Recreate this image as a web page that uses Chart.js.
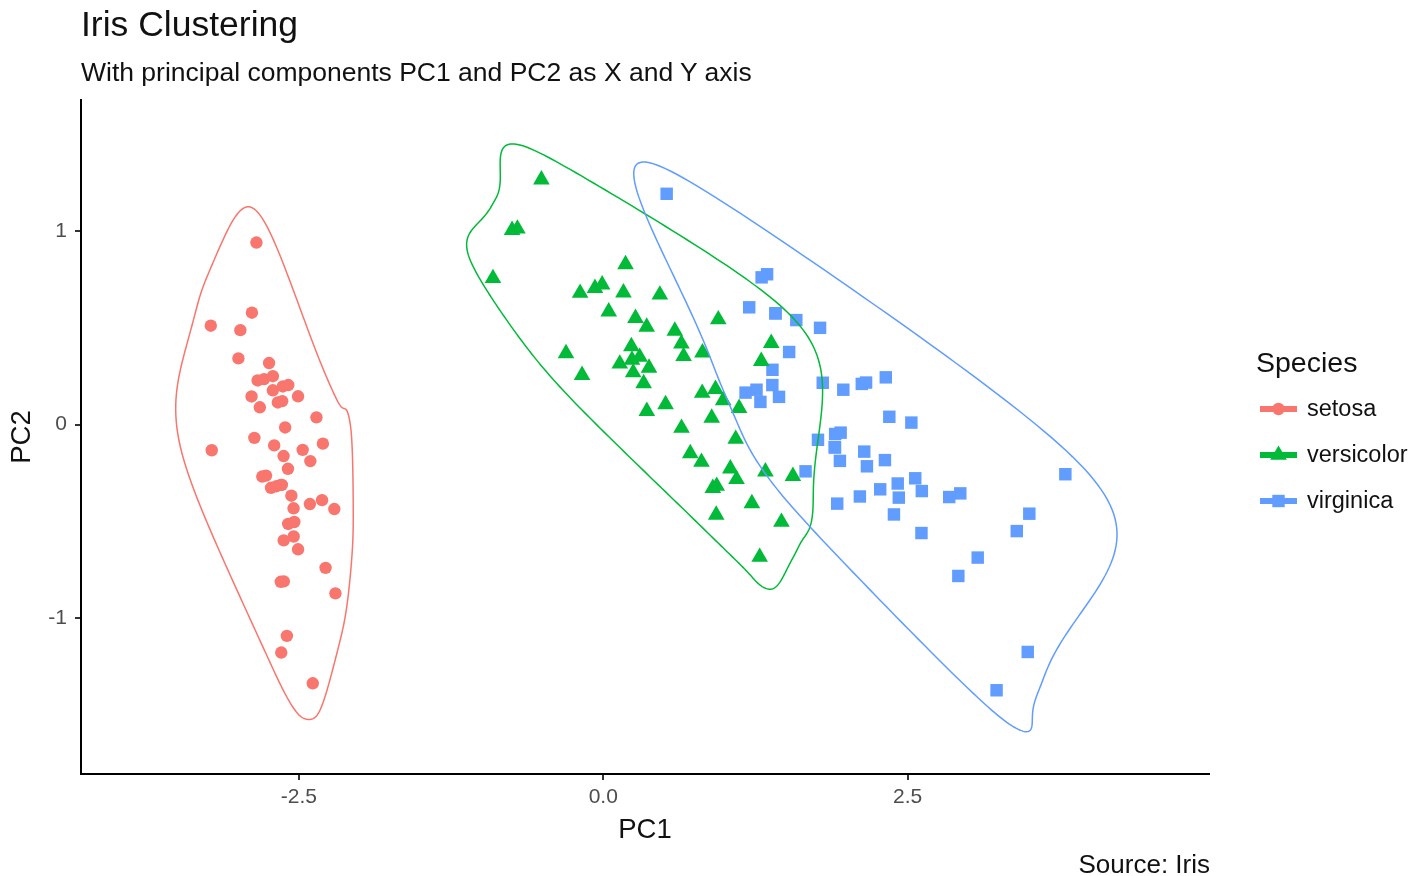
<!DOCTYPE html>
<html>
<head>
<meta charset="utf-8">
<script src="https://cdn.jsdelivr.net/npm/chart.js@4.4.1/dist/chart.umd.min.js"></script>
<style>
  html, body { margin: 0; padding: 0; background: #fff; }
  #wrap { position: relative; width: 1427px; height: 876px; overflow: hidden;
          font-family: "Liberation Sans", Arial, Helvetica, sans-serif; color: #111; }
  #chart { position: absolute; left: 0; top: 0; }
  .txt { position: absolute; white-space: nowrap; }
  .key { position: absolute; }
</style>
</head>
<body>
<div id="wrap">
  <canvas id="chart" width="1427" height="876"></canvas>
  <div class="txt" style="left:81px;top:7px;font-size:35.5px;line-height:35.5px;">Iris Clustering</div>
  <div class="txt" style="left:81px;top:59px;font-size:26.5px;line-height:26.5px;">With principal components PC1 and PC2 as X and Y axis</div>
  <div class="txt" style="right:217px;top:851px;font-size:26px;line-height:26px;">Source: Iris</div>
  <div class="txt" style="left:1256px;top:348px;font-size:28.5px;line-height:28.5px;">Species</div>
  <div id="legend"></div>
</div>
<script>
// PCA scores of the iris measurements (PC2 sign as plotted)
const species = ['setosa', 'versicolor', 'virginica'];
const colors = ['#F8766D', '#00BA38', '#619CFF'];
const shapes = ['circle', 'triangle', 'rect'];

const setosaPC1 = [-2.684,-2.714,-2.889,-2.745,-2.729,-2.281,-2.821,-2.626,-2.886,-2.673,
  -2.507,-2.613,-2.786,-3.224,-2.645,-2.386,-2.624,-2.648,-2.200,-2.588,
  -2.310,-2.544,-3.216,-2.303,-2.356,-2.507,-2.469,-2.562,-2.640,-2.632,
  -2.587,-2.410,-2.649,-2.599,-2.637,-2.866,-2.625,-2.801,-2.981,-2.590,
  -2.770,-2.849,-2.997,-2.406,-2.209,-2.714,-2.538,-2.839,-2.543,-2.703];
const setosaPC2 = [-0.319,0.177,0.145,0.318,-0.327,-0.741,0.089,-0.163,0.578,0.114,
  -0.645,-0.015,0.235,0.511,-1.179,-1.338,-0.811,-0.312,-0.873,-0.514,
  -0.391,-0.433,-0.133,-0.099,0.037,0.146,-0.131,-0.368,-0.312,0.197,
  0.204,-0.411,-0.813,-1.093,0.121,-0.069,-0.599,-0.269,0.488,-0.229,
  -0.264,0.941,0.342,-0.189,-0.437,0.250,-0.504,0.228,-0.579,-0.108];

const versicolorPC1 = [1.285,0.932,1.464,0.183,1.088,0.642,1.095,-0.749,1.044,-0.009,
  -0.508,0.512,0.265,0.985,-0.174,0.928,0.660,0.236,0.945,0.045,
  1.116,0.358,1.298,0.922,0.715,0.900,1.332,1.558,0.813,-0.306,
  -0.068,-0.190,0.136,1.380,0.588,0.807,1.221,0.815,0.246,0.166,
  0.465,0.891,0.231,-0.705,0.357,0.332,0.376,0.643,-0.906,0.299];
const versicolorPC2 = [-0.685,-0.318,-0.504,0.828,-0.075,0.418,-0.283,1.005,-0.228,0.723,
  1.266,0.104,0.550,0.125,0.255,-0.467,0.353,0.334,0.543,0.584,
  0.085,0.069,0.328,0.183,-0.149,-0.329,-0.244,-0.267,0.163,0.368,
  0.705,0.680,0.314,0.421,0.484,-0.194,-0.408,0.372,0.269,0.682,
  0.671,0.034,0.404,1.012,0.505,0.213,0.293,-0.018,0.756,0.349];

const virginicaPC1 = [2.531,1.415,2.617,1.972,2.350,3.397,0.521,2.933,2.321,2.917,
  1.662,1.803,2.166,1.346,1.586,1.904,1.950,3.487,3.796,1.301,
  2.428,1.199,3.500,1.389,2.275,2.614,1.259,1.291,2.124,2.388,
  2.842,3.231,2.159,1.444,1.781,3.076,2.144,1.905,1.169,2.108,
  2.314,1.922,1.415,2.563,2.419,1.944,1.527,1.764,1.901,1.390];
const virginicaPC2 = [0.010,0.575,-0.344,0.180,0.040,-0.551,1.193,-0.356,0.244,-0.783,
  -0.242,0.216,-0.216,0.777,0.540,-0.119,-0.042,-1.176,-0.257,0.761,
  -0.378,0.606,-0.461,0.204,-0.335,-0.561,0.180,0.117,0.210,-0.465,
  -0.375,-1.374,0.217,0.143,0.500,-0.688,-0.140,-0.049,0.165,-0.372,
  -0.184,-0.409,0.575,-0.278,-0.305,-0.188,0.375,-0.079,-0.117,0.283];

const xTicks = [-2.5, 0, 2.5];
const yTicks = [-1, 0, 1];
const xRange = [-4.290, 4.976];
const yRange = [-1.807, 1.678];

const pc1 = [setosaPC1, versicolorPC1, virginicaPC1];
const pc2 = [setosaPC2, versicolorPC2, virginicaPC2];

// sizes (px)
const radius = [6.2, 9.6, 8.8];
const FONT = "'Liberation Sans', Arial, Helvetica, sans-serif";
Chart.defaults.font.family = FONT;

// --- encircle: hull pushed out from the group centre, closed interpolating x-spline ---
const EXPAND = 0.05;
const SHAPE_Q = 0.5;

function hull(pts) {
  const p = pts.slice().sort((a, b) => a[0] - b[0] || a[1] - b[1]);
  const cross = (o, a, b) => (a[0]-o[0])*(b[1]-o[1]) - (a[1]-o[1])*(b[0]-o[0]);
  const lo = [], up = [];
  for (const q of p) { while (lo.length >= 2 && cross(lo[lo.length-2], lo[lo.length-1], q) <= 0) lo.pop(); lo.push(q); }
  for (let i = p.length - 1; i >= 0; i--) { const q = p[i];
    while (up.length >= 2 && cross(up[up.length-2], up[up.length-1], q) <= 0) up.pop(); up.push(q); }
  lo.pop(); up.pop();
  return lo.concat(up);
}
function gBlend(u, q) { return u*(q + u*(2*q + u*(8 - 12*q + u*(14*q - 11 + u*(4 - 5*q))))); }
function hBlend(u, q) { const u2 = u*u; return u*(q + u*(2*q + u2*(-2*q - u*q))); }
function xspline(ctrl, q) {
  const n = ctrl.length, out = [];
  for (let k = 0; k < n; k++) {
    const P = [ctrl[(k-1+n)%n], ctrl[k], ctrl[(k+1)%n], ctrl[(k+2)%n]];
    for (let t = 0; t < 1; t += 0.02) {
      const a0 = hBlend(-t, q), a2 = gBlend(t, q);
      const a1 = gBlend(1 - t, q), a3 = hBlend(t - 1, q);
      const w = a0 + a1 + a2 + a3;
      out.push([(a0*P[0][0] + a1*P[1][0] + a2*P[2][0] + a3*P[3][0]) / w,
                (a0*P[0][1] + a1*P[1][1] + a2*P[2][1] + a3*P[3][1]) / w]);
    }
  }
  return out;
}
const encirclePlugin = {
  id: 'encircle',
  afterDatasetsDraw(chart) {
    const {ctx, chartArea: ca, scales: {x, y}} = chart;
    const expand = EXPAND * Math.min(ca.width, ca.height);
    ctx.save();
    ctx.beginPath(); ctx.rect(ca.left, ca.top, ca.width, ca.height); ctx.clip();
    chart.data.datasets.forEach(ds => {
      const pts = ds.data.map(p => [x.getPixelForValue(p.x), y.getPixelForValue(p.y)]);
      const cx = pts.reduce((a, p) => a + p[0], 0) / pts.length;
      const cy = pts.reduce((a, p) => a + p[1], 0) / pts.length;
      // push direction measured in panel-relative units, offset in pixels
      const ctrl = hull(pts).map(([px, py]) => {
        const dx = (px - cx) / ca.width, dy = (py - cy) / ca.height, r = Math.hypot(dx, dy);
        return [px + dx / r * expand, py + dy / r * expand];
      });
      const curve = xspline(ctrl, SHAPE_Q);
      ctx.beginPath();
      curve.forEach((p, j) => j ? ctx.lineTo(p[0], p[1]) : ctx.moveTo(p[0], p[1]));
      ctx.closePath();
      ctx.strokeStyle = ds.borderColor;
      ctx.lineWidth = 1.5;
      ctx.stroke();
    });
    ctx.restore();
  }
};

new Chart(document.getElementById('chart'), {
  type: 'scatter',
  data: {
    datasets: species.map((sp, i) => ({
      label: sp,
      data: pc1[i].map((v, j) => ({x: v, y: pc2[i][j]})),
      pointStyle: shapes[i],
      pointRadius: radius[i],
      pointHoverRadius: radius[i],
      pointBorderWidth: 0,
      backgroundColor: colors[i],
      borderColor: colors[i]
    }))
  },
  options: {
    responsive: false,
    animation: false,
    devicePixelRatio: 1,
    events: [],
    layout: {padding: {left: 0, top: 100, right: 218, bottom: 0}},
    plugins: {legend: {display: false}, tooltip: {enabled: false}},
    scales: {
      x: {
        type: 'linear', min: xRange[0], max: xRange[1],
        afterBuildTicks: s => { s.ticks = xTicks.map(v => ({value: v})); },
        afterFit: s => { s.height = 102; },
        ticks: {callback: v => v.toFixed(1), color: '#4d4d4d', font: {size: 21}, padding: 5, maxRotation: 0},
        grid: {drawOnChartArea: false, drawTicks: true, tickLength: 6, color: '#333', lineWidth: 2},
        border: {display: true, color: '#000', width: 2},
        title: {display: true, text: 'PC1', color: '#111', font: {size: 27.5}, padding: {top: 0, bottom: 29}}
      },
      y: {
        type: 'linear', min: yRange[0], max: yRange[1],
        afterBuildTicks: s => { s.ticks = yTicks.map(v => ({value: v})); },
        afterFit: s => { s.width = 81; },
        ticks: {callback: v => String(v), color: '#4d4d4d', font: {size: 21}, padding: 8},
        grid: {drawOnChartArea: false, drawTicks: true, tickLength: 6, color: '#333', lineWidth: 2},
        border: {display: true, color: '#000', width: 2},
        title: {display: true, text: 'PC2', color: '#111', font: {size: 27.5}, padding: {top: 6, bottom: 0}}
      }
    }
  },
  plugins: [encirclePlugin]
});

// legend: path + point key, like ggplot
const legend = document.getElementById('legend');
species.forEach((sp, i) => {
  const cy = 409 + i * 46;
  let mark;
  if (shapes[i] === 'circle') mark = `<circle cx="18.5" cy="12" r="6.2" fill="${colors[i]}"/>`;
  else if (shapes[i] === 'triangle') {
    const r = 9.6, h = r * Math.sqrt(3) / 2;
    mark = `<polygon points="18.5,${12 - r} ${18.5 + h},${12 + r / 2} ${18.5 - h},${12 + r / 2}" fill="${colors[i]}"/>`;
  } else mark = `<rect x="12.3" y="5.8" width="12.4" height="12.4" fill="${colors[i]}"/>`;
  legend.insertAdjacentHTML('beforeend',
    `<svg class="key" style="left:1260px;top:${cy - 12}px" width="38" height="24">
       <line x1="0" y1="12" x2="37" y2="12" stroke="${colors[i]}" stroke-width="6"/>${mark}</svg>
     <div class="txt" style="left:1307px;top:${cy - 12.5}px;font-size:23.5px;line-height:23.5px;">${sp}</div>`);
});
</script>
</body>
</html>
